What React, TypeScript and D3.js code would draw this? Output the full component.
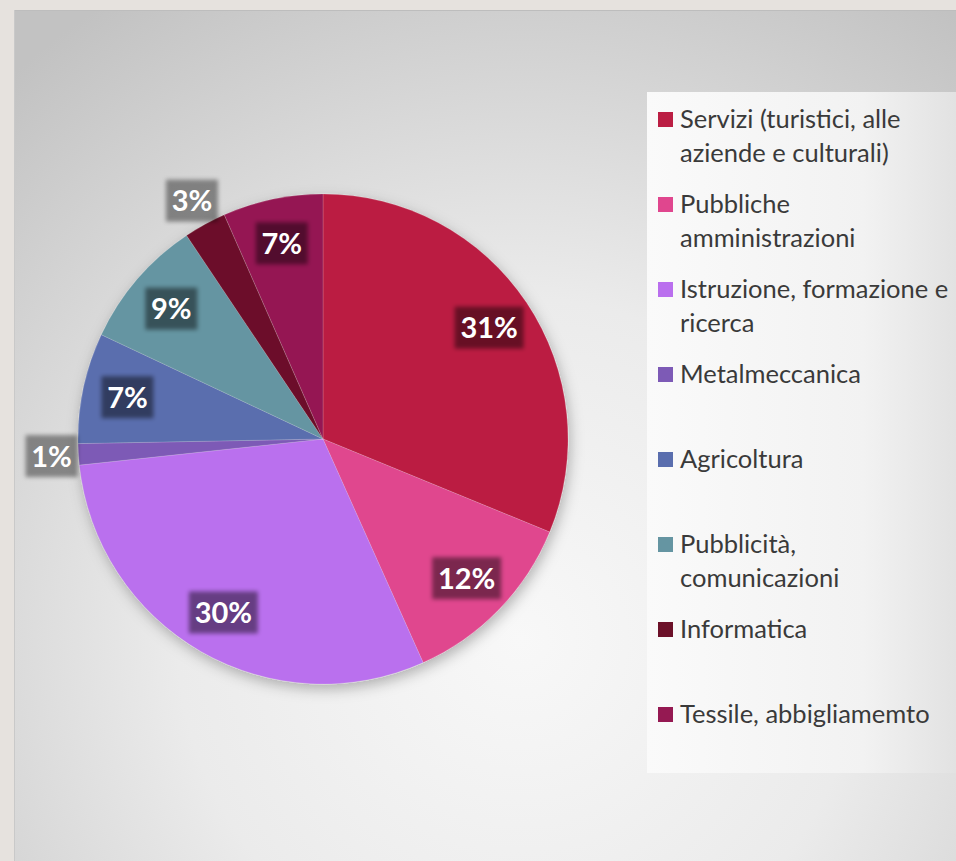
import * as d3 from "d3";
import { useEffect, useRef } from "react";

const categories = [
  ["Servizi (turistici, alle", "aziende e culturali)"],
  ["Pubbliche", "amministrazioni"],
  ["Istruzione, formazione e", "ricerca"],
  ["Metalmeccanica"],
  ["Agricoltura"],
  ["Pubblicità,", "comunicazioni"],
  ["Informatica"],
  ["Tessile, abbigliamemto"],
];
const values = [31.2, 12.1, 30.0, 1.4, 7.3, 8.6, 2.8, 6.6];
const colors = ["#bb1e43", "#e0468e", "#ba6fee", "#7d5ab6", "#5a6eae", "#6595a2", "#6c1129", "#951952"];

type Slice = { name: string[]; value: number; color: string };

export default function App(): JSX.Element {
  const svgRef = useRef<SVGSVGElement>(null);

  useEffect(() => {
    if (!svgRef.current) return;
    const width = 956;
    const height = 861;
    const svg = d3.select(svgRef.current);
    svg.selectAll("*").remove();
    svg.attr("width", width).attr("height", height);

    const defs = svg.append("defs");
    const bg = defs
      .append("radialGradient")
      .attr("id", "bg")
      .attr("gradientUnits", "userSpaceOnUse")
      .attr("cx", 520)
      .attr("cy", 640)
      .attr("r", 760);
    bg.append("stop").attr("offset", "0%").attr("stop-color", "#f8f8f8");
    bg.append("stop").attr("offset", "45%").attr("stop-color", "#ebebeb");
    bg.append("stop").attr("offset", "100%").attr("stop-color", "#c2c2c2");

    const lg = defs
      .append("linearGradient")
      .attr("id", "legendBg")
      .attr("x1", 0)
      .attr("x2", 1)
      .attr("y1", 0)
      .attr("y2", 0);
    lg.append("stop").attr("offset", "0%").attr("stop-color", "#fafafa");
    lg.append("stop").attr("offset", "70%").attr("stop-color", "#f2f2f2");
    lg.append("stop").attr("offset", "100%").attr("stop-color", "#e2e2e2");

    defs
      .append("filter")
      .attr("id", "shadow")
      .attr("x", "-20%")
      .attr("y", "-20%")
      .attr("width", "140%")
      .attr("height", "140%")
      .append("feDropShadow")
      .attr("dx", 2)
      .attr("dy", 5)
      .attr("stdDeviation", 7)
      .attr("flood-color", "#000")
      .attr("flood-opacity", 0.28);

    defs
      .append("filter")
      .attr("id", "blur")
      .append("feGaussianBlur")
      .attr("stdDeviation", 2);

    // page frame
    svg.append("rect").attr("width", width).attr("height", height).attr("fill", "#e6e2de");
    svg.append("rect").attr("x", 14).attr("y", 10).attr("width", width - 14).attr("height", height - 10).attr("fill", "url(#bg)");
    svg.append("line").attr("x1", 14).attr("x2", width).attr("y1", 10.5).attr("y2", 10.5).attr("stroke", "#bdbdbd");
    svg.append("line").attr("x1", 14.5).attr("x2", 14.5).attr("y1", 10).attr("y2", height).attr("stroke", "#c9c9c9");

    const series: Slice[] = categories.map((c, i) => ({ name: c, value: values[i], color: colors[i] }));
    const total = d3.sum(values);

    const cx = 323;
    const cy = 439;
    const radius = 245;

    const pie = d3
      .pie<Slice>()
      .value((d) => d.value)
      .sort(null);
    const arcs = pie(series);
    const arc = d3.arc<d3.PieArcDatum<Slice>>().innerRadius(0).outerRadius(radius);

    const g = svg.append("g").attr("transform", `translate(${cx},${cy})`);
    g.append("g")
      .attr("filter", "url(#shadow)")
      .selectAll("path")
      .data(arcs)
      .join("path")
      .attr("d", arc)
      .attr("fill", (d) => d.data.color)
      .attr("stroke", "rgba(255,255,255,0.25)")
      .attr("stroke-width", 0.6);

    const inner = d3.arc<d3.PieArcDatum<Slice>>().innerRadius(200).outerRadius(200);
    const outer = d3.arc<d3.PieArcDatum<Slice>>().innerRadius(272).outerRadius(272);

    const labels = g.append("g");
    for (const a of arcs) {
      const pct = Math.round((a.data.value / total) * 100);
      const isOut = pct < 4;
      const [lx, ly] = (isOut ? outer : inner).centroid(a);
      const txt = `${pct}%`;
      const w = txt.length * 17 + 18;
      const h = 42;
      labels
        .append("rect")
        .attr("x", lx - w / 2)
        .attr("y", ly - h / 2)
        .attr("width", w)
        .attr("height", h)
        .attr("fill", "#000")
        .attr("fill-opacity", isOut ? 0.4 : 0.45)
        .attr("filter", "url(#blur)");
      labels
        .append("text")
        .attr("x", lx)
        .attr("y", ly)
        .attr("dy", "0.36em")
        .attr("text-anchor", "middle")
        .attr("font-family", "Lato, sans-serif")
        .attr("font-weight", 700)
        .attr("font-size", 29)
        .attr("fill", "#fff")
        .text(txt);
    }

    // legend
    svg.append("rect").attr("x", 647).attr("y", 92).attr("width", width - 647).attr("height", 681).attr("fill", "url(#legendBg)");

    const legendY = d3
      .scaleBand<number>()
      .domain(d3.range(series.length))
      .range([112, 112 + 85 * series.length]);

    const items = svg
      .append("g")
      .selectAll("g")
      .data(series)
      .join("g")
      .attr("transform", (_d, i) => `translate(658,${legendY(i)})`);
    items.append("rect").attr("width", 15).attr("height", 15).attr("fill", (d) => d.color);
    items
      .append("text")
      .attr("font-family", "Lato, sans-serif")
      .attr("font-size", 25.5)
      .attr("fill", "#3a3a3a")
      .selectAll("tspan")
      .data((d) => d.name)
      .join("tspan")
      .attr("x", 22)
      .attr("y", (_d, j) => 16 + j * 34)
      .text((d) => d);
  }, []);

  return <svg ref={svgRef} style={{ position: "absolute", left: 0, top: 0, display: "block" }} />;
}
